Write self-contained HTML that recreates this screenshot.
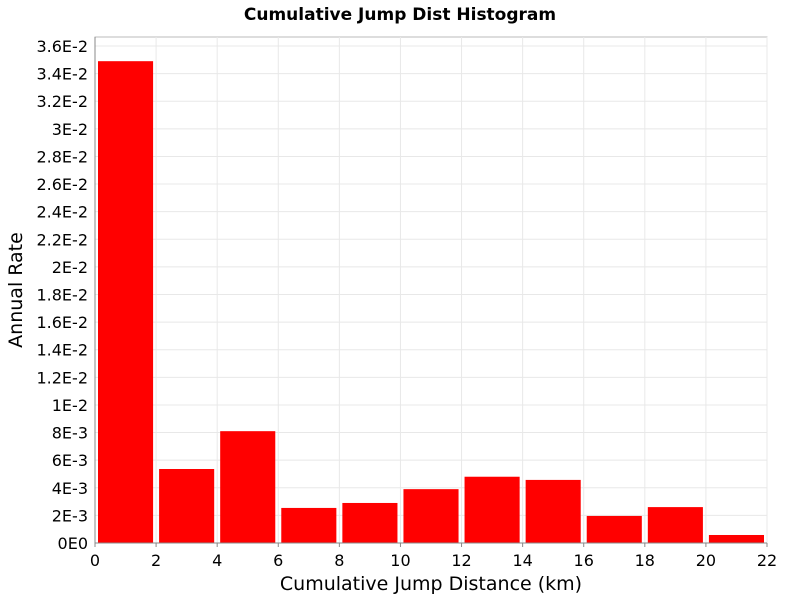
<!DOCTYPE html>
<html><head><meta charset="utf-8"><style>
body{margin:0;background:#fff;font-family:"DejaVu Sans","Liberation Sans",sans-serif}
</style></head><body>
<svg id="chart" width="800" height="600" xmlns="http://www.w3.org/2000/svg" font-family="DejaVu Sans, Liberation Sans, sans-serif">
<text x="400" y="20" text-anchor="middle" font-size="17" font-weight="bold">Cumulative Jump Dist Histogram</text>
<rect x="95" y="37" width="672" height="506" fill="#fff" stroke="#bbb"/>
<g id="grid"></g><g id="bars"></g><g id="axes"></g>
<text x="431" y="590" text-anchor="middle" font-size="19">Cumulative Jump Distance (km)</text>
<text transform="translate(22,290) rotate(-90)" text-anchor="middle" font-size="19">Annual Rate</text>
</svg>
<script>
const binStarts=[0,2,4,6,8,10,12,14,16,18,20];
const rates=[0.0349,0.00536,0.0081,0.00254,0.0029,0.0039,0.0048,0.00457,0.00196,0.0026,0.00058];
const xTicks=[0,2,4,6,8,10,12,14,16,18,20,22];
const yTicks=[0,0.002,0.004,0.006,0.008,0.01,0.012,0.014,0.016,0.018,0.02,0.022,0.024,0.026,0.028,0.03,0.032,0.034,0.036];
const yLabels=["0E0","2E-3","4E-3","6E-3","8E-3","1E-2","1.2E-2","1.4E-2","1.6E-2","1.8E-2","2E-2","2.2E-2","2.4E-2","2.6E-2","2.8E-2","3E-2","3.2E-2","3.4E-2","3.6E-2"];
const binWidth=2;
const NS="http://www.w3.org/2000/svg";
const X=v=>95+v*(672/22);
const Y=v=>543-v*(497/0.036);
function mk(t,a,p,txt){const e=document.createElementNS(NS,t);for(const k in a)e.setAttribute(k,a[k]);if(txt!==undefined)e.textContent=txt;p.appendChild(e);return e;}
const g=document.getElementById('grid'),b=document.getElementById('bars'),ax=document.getElementById('axes');
xTicks.forEach(t=>{
 const l=mk('line',{x1:X(t),x2:X(t),y1:37,y2:543,stroke:'#e8e8e8'},g);
 
 
 const tk=mk('line',{x1:X(t),x2:X(t),y1:543,y2:547,stroke:'#888'},ax);
 
 
 const tx=mk('text',{x:X(t),y:566,'text-anchor':'middle','font-size':'16'},ax,String(t));
 
 
});
yTicks.forEach((t,i)=>{
 const l=mk('line',{x1:95,x2:767,y1:Y(t),y2:Y(t),stroke:'#e8e8e8'},g);
 
 
 const tx=mk('text',{x:88,y:Y(t)+6,'text-anchor':'end','font-size':'16'},ax,yLabels[i]);
 
 
});
binStarts.forEach((s,i)=>{
 const x0=X(s)+3,x1=X(s+binWidth)-3;
 const r=mk('rect',{x:x0,y:Y(rates[i]),width:x1-x0,height:543-Y(rates[i]),fill:'#ff0000'},b);
 
 
});
mk('line',{x1:95,x2:767,y1:543,y2:543,stroke:'#888'},ax);
mk('line',{x1:95,x2:95,y1:37,y2:543,stroke:'#888'},ax);
</script>
</body></html>
